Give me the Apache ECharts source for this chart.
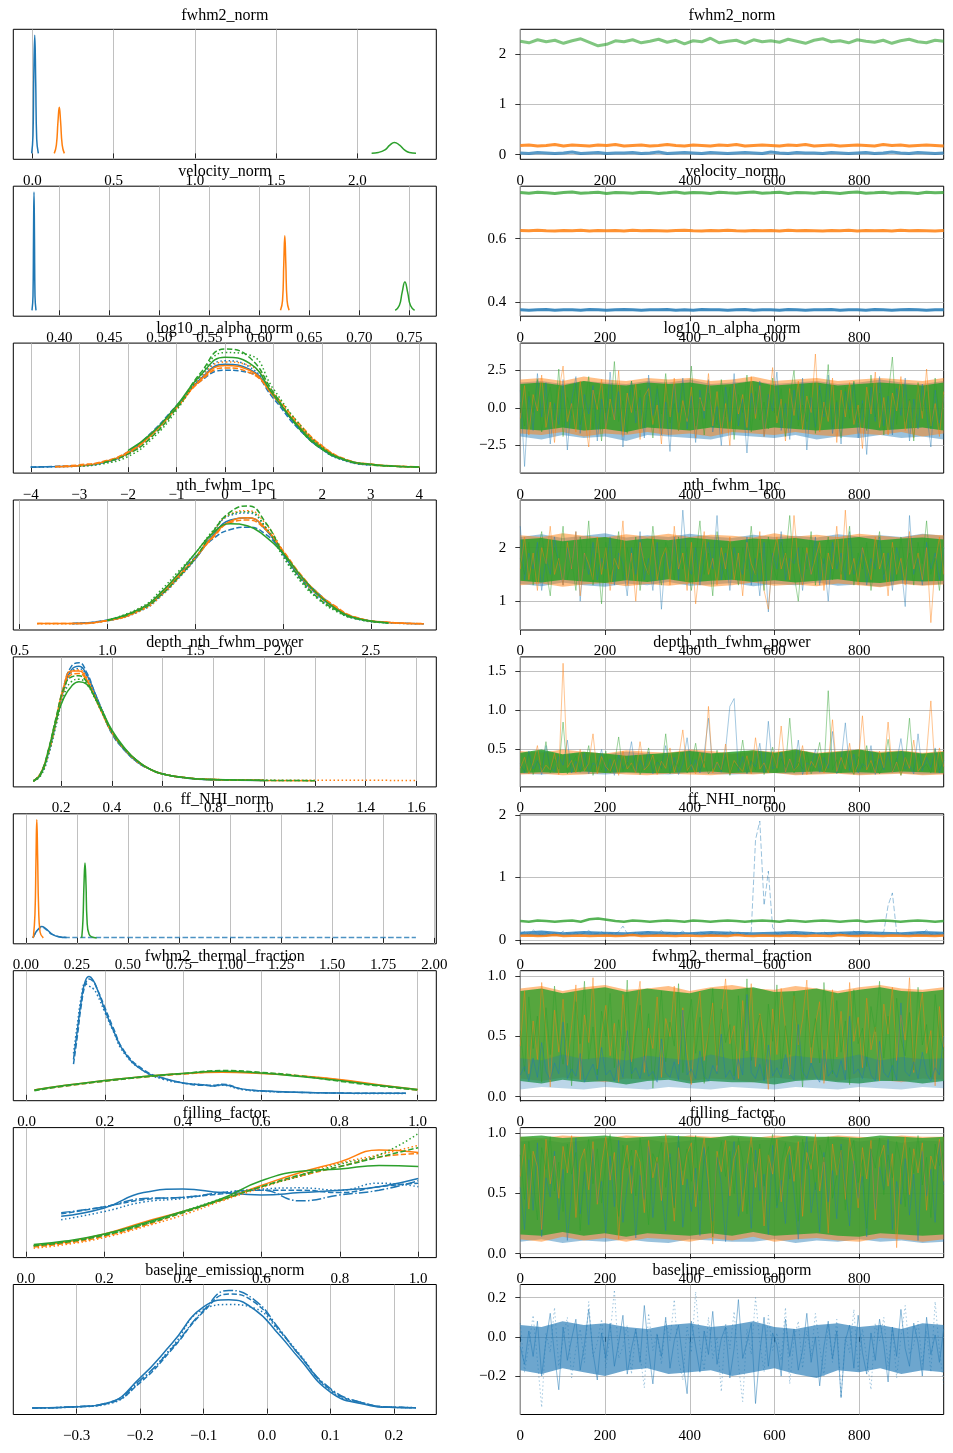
<!DOCTYPE html>
<html>
<head>
<meta charset="utf-8">
<script src="https://cdn.jsdelivr.net/npm/echarts@6/dist/echarts.min.js"></script>
<style>
html, body { margin: 0; padding: 0; background: #fff; }
#chart { width: 953px; height: 1453px; }
</style>
</head>
<body>
<div id="chart"></div>
<script>
var BLUE = '#1f77b4', ORANGE = '#ff7f0e', GREEN = '#2ca02c';

var titles = ['fwhm2_norm', 'velocity_norm', 'log10_n_alpha_norm', 'nth_fwhm_1pc', 'depth_nth_fwhm_power',
              'ff_NHI_norm', 'fwhm2_thermal_fraction', 'filling_factor', 'baseline_emission_norm'];

// left column (density) x axis
var kdeXRange = [[-0.117, 2.486], [0.354, 0.777], [-4.36, 4.35], [0.464, 2.872], [0.011, 1.679],
                 [-0.061, 2.01], [-0.034, 1.048], [-0.032, 1.046], [-0.4, 0.267]];
var kdeXTicks = [[0, 0.5, 1, 1.5, 2], [0.4, 0.45, 0.5, 0.55, 0.6, 0.65, 0.7, 0.75], [-4, -3, -2, -1, 0, 1, 2, 3, 4],
                 [0.5, 1, 1.5, 2, 2.5], [0.2, 0.4, 0.6, 0.8, 1.0, 1.2, 1.4, 1.6],
                 [0, 0.25, 0.5, 0.75, 1, 1.25, 1.5, 1.75, 2], [0, 0.2, 0.4, 0.6, 0.8, 1], [0, 0.2, 0.4, 0.6, 0.8, 1],
                 [-0.3, -0.2, -0.1, 0, 0.1, 0.2]];
var kdeXDecimals = [1, 2, 0, 1, 1, 2, 1, 1, 1];

// right column (trace) y axis
var traceYRange = [[-0.094, 2.488], [0.355, 0.766], [-4.34, 4.33], [0.463, 2.889], [0.023, 1.681],
                   [-0.064, 2.016], [-0.034, 1.048], [-0.032, 1.046], [-0.396, 0.267]];
var traceYTicks = [[0, 1, 2], [0.4, 0.6], [-2.5, 0, 2.5], [1, 2], [0.5, 1, 1.5], [0, 1, 2], [0, 0.5, 1], [0, 0.5, 1], [-0.2, 0, 0.2]];
var traceYDecimals = [0, 1, 1, 0, 1, 0, 1, 1, 1];
var drawTicks = [0, 200, 400, 600, 800];
var drawMax = 999;

// ---- densities (relative, tallest curve of a panel = 1) ----
// row 1
var kde1BlueX = [-0.004, 0.004, 0.009, 0.015, 0.021, 0.027, 0.037];
var kde1Blue = [[0, 0.15, 0.65, 1.0, 0.6, 0.12, 0]];
var kde1OrangeX = [0.135, 0.148, 0.158, 0.166, 0.174, 0.184, 0.197];
var kde1Orange = [[0, 0.07, 0.27, 0.39, 0.27, 0.07, 0]];
var kde1GreenX = [2.088, 2.13, 2.17, 2.2, 2.228, 2.26, 2.29, 2.32, 2.361];
var kde1Green = [[0.002, 0.008, 0.03, 0.07, 0.093, 0.07, 0.03, 0.008, 0.002]];
// row 2
var kde2BlueX = [0.3727, 0.3737, 0.3742, 0.3747, 0.3752, 0.3757, 0.3767];
var kde2Blue = [[0, 0.12, 0.6, 1.0, 0.6, 0.12, 0]];
var kde2OrangeX = [0.6212, 0.6232, 0.6245, 0.6255, 0.6265, 0.6278, 0.6298];
var kde2Orange = [[0, 0.08, 0.4, 0.631, 0.4, 0.08, 0]];
var kde2GreenX = [0.7359, 0.74, 0.7428, 0.7456, 0.7484, 0.7512, 0.7553];
var kde2Green = [[0, 0.04, 0.15, 0.239, 0.15, 0.04, 0]];
// row 3
var kde3X = [-4, -3.5, -3, -2.5, -2, -1.5, -1, -0.5, 0, 0.5, 1, 1.5, 2, 2.5, 3, 3.5, 4];
var kde3Blue = [
  [0, 0.005, 0.012, 0.04, 0.12, 0.29, 0.51, 0.75, 0.87, 0.83, 0.6, 0.34, 0.15, 0.055, 0.02, null, null],
  [0.002, 0.006, 0.015, 0.045, 0.13, 0.3, 0.52, 0.73, 0.82, 0.8, 0.58, 0.33, 0.16, 0.06, 0.022, null, null],
  [0.001, 0.004, 0.01, 0.035, 0.11, 0.27, 0.5, 0.77, 0.9, 0.85, 0.61, 0.35, 0.15, 0.05, 0.018, null, null]];
var kde3Orange = [
  [null, 0.004, 0.012, 0.045, 0.12, 0.28, 0.5, 0.74, 0.86, 0.82, 0.6, 0.36, 0.17, 0.06, 0.024, 0.008, 0.002],
  [null, 0.006, 0.02, 0.05, 0.13, 0.29, 0.5, 0.73, 0.84, 0.8, 0.62, 0.38, 0.18, 0.065, 0.026, 0.01, 0.003],
  [null, 0.003, 0.01, 0.04, 0.11, 0.27, 0.5, 0.76, 0.89, 0.86, 0.63, 0.37, 0.18, 0.06, 0.022, 0.007, 0.002]];
var kde3Green = [
  [null, null, null, null, 0.14, 0.29, 0.52, 0.78, 0.93, 0.88, 0.61, 0.35, 0.16, 0.06, 0.025, 0.009, 0.002],
  [null, null, null, 0.04, 0.11, 0.26, 0.5, 0.8, 1.0, 0.93, 0.63, 0.34, 0.15, 0.055, 0.02, 0.007, 0.002],
  [null, null, 0.008, 0.03, 0.09, 0.24, 0.48, 0.78, 0.97, 0.95, 0.66, 0.38, 0.17, 0.06, 0.022, 0.008, 0.002]];
// row 4
var kde4X = [0.6, 0.8, 1.0, 1.2, 1.3, 1.4, 1.5, 1.6, 1.7, 1.8, 1.9, 2.0, 2.1, 2.2, 2.3, 2.4, 2.6, 2.8];
var kde4Blue = [
  [null, 0.004, 0.03, 0.13, 0.24, 0.39, 0.55, 0.75, 0.88, 0.9, 0.8, 0.59, 0.39, 0.24, 0.13, 0.055, 0.012, null],
  [null, 0.005, 0.035, 0.14, 0.26, 0.41, 0.57, 0.72, 0.8, 0.82, 0.76, 0.6, 0.41, 0.26, 0.14, 0.06, 0.013, 0.003],
  [null, 0.003, 0.028, 0.12, 0.23, 0.38, 0.55, 0.77, 0.92, 0.94, 0.82, 0.58, 0.37, 0.22, 0.12, 0.05, 0.01, 0.002]];
var kde4Orange = [
  [0.004, 0.005, 0.03, 0.13, 0.25, 0.4, 0.56, 0.74, 0.87, 0.9, 0.81, 0.61, 0.41, 0.25, 0.14, 0.06, 0.014, 0.003],
  [0.006, 0.004, 0.032, 0.14, 0.25, 0.4, 0.56, 0.73, 0.86, 0.88, 0.8, 0.62, 0.42, 0.26, 0.15, 0.065, 0.015, 0.004],
  [0.002, 0.004, 0.028, 0.12, 0.23, 0.38, 0.56, 0.78, 0.93, 0.96, 0.85, 0.62, 0.4, 0.24, 0.13, 0.06, 0.014, 0.003]];
var kde4Green = [
  [null, null, 0.035, 0.14, 0.26, 0.42, 0.6, 0.77, 0.85, 0.83, 0.74, 0.6, 0.41, 0.25, 0.13, 0.055, 0.01, null],
  [null, null, 0.03, 0.13, 0.24, 0.39, 0.56, 0.78, 0.95, 1.0, 0.86, 0.6, 0.38, 0.22, 0.12, 0.05, 0.01, null],
  [null, null, 0.032, 0.15, 0.28, 0.44, 0.6, 0.79, 0.93, 0.95, 0.82, 0.57, 0.36, 0.21, 0.11, 0.05, 0.01, null]];
// row 5
var kde5X = [0.09, 0.12, 0.15, 0.18, 0.21, 0.24, 0.27, 0.3, 0.33, 0.36, 0.4, 0.45, 0.5, 0.55, 0.6, 0.7, 0.8, 1.0, 1.2, 1.6];
var kde5Blue = [
  [0, 0.06, 0.24, 0.5, 0.78, 0.94, 0.97, 0.9, 0.76, 0.6, 0.41, 0.26, 0.16, 0.1, 0.06, 0.024, 0.011, 0.004, null, null],
  [0, 0.07, 0.26, 0.52, 0.8, 0.97, 1.0, 0.92, 0.76, 0.6, 0.4, 0.26, 0.16, 0.1, 0.06, 0.024, 0.011, null, null, null],
  [0, 0.05, 0.22, 0.48, 0.75, 0.92, 0.95, 0.89, 0.75, 0.61, 0.42, 0.27, 0.17, 0.1, 0.06, 0.025, 0.012, 0.005, null, null]];
var kde5Orange = [
  [0, 0.07, 0.26, 0.53, 0.8, 0.93, 0.93, 0.86, 0.72, 0.58, 0.41, 0.27, 0.17, 0.1, 0.06, 0.025, 0.012, 0.005, 0.003, null],
  [0, 0.06, 0.24, 0.5, 0.77, 0.9, 0.91, 0.85, 0.72, 0.59, 0.42, 0.27, 0.17, 0.1, 0.06, 0.026, 0.013, 0.006, null, null],
  [0, 0.06, 0.25, 0.51, 0.78, 0.92, 0.94, 0.88, 0.74, 0.6, 0.42, 0.27, 0.16, 0.1, 0.06, 0.026, 0.013, 0.007, 0.006, 0.005]];
var kde5Green = [
  [0, 0.06, 0.26, 0.52, 0.7, 0.8, 0.84, 0.82, 0.72, 0.6, 0.43, 0.28, 0.17, 0.1, 0.06, 0.025, 0.012, 0.005, null, null],
  [0, 0.07, 0.27, 0.54, 0.78, 0.88, 0.89, 0.84, 0.72, 0.59, 0.42, 0.27, 0.17, 0.1, 0.06, 0.025, 0.012, 0.005, 0.003, null],
  [0, 0.05, 0.23, 0.48, 0.72, 0.84, 0.86, 0.82, 0.71, 0.58, 0.41, 0.27, 0.17, 0.1, 0.06, 0.025, 0.012, 0.006, 0.004, null]];
// row 6
var kde6BlueX = [0.035, 0.05, 0.065, 0.078, 0.09, 0.11, 0.13, 0.16, 0.2];
var kde6Blue = [[0, 0.05, 0.08, 0.096, 0.09, 0.06, 0.03, 0.01, 0.003]];
var kde6BlueTailX = [0.035, 0.06, 0.08, 0.1, 0.13, 0.2, 0.5, 1.0, 1.5, 1.91];
var kde6BlueTail = [0, 0.07, 0.09, 0.07, 0.03, 0.004, 0.003, 0.003, 0.003, 0.003];
var kde6OrangeX = [0.037, 0.045, 0.05, 0.054, 0.058, 0.063, 0.07, 0.086];
var kde6Orange = [[0, 0.2, 0.65, 1.0, 0.7, 0.25, 0.05, 0]];
var kde6GreenX = [0.274, 0.28, 0.285, 0.29, 0.295, 0.3, 0.31, 0.347];
var kde6Green = [[0, 0.15, 0.45, 0.634, 0.45, 0.15, 0.03, 0]];
// row 7
var kde7BlueX = [0.12, 0.13, 0.14, 0.15, 0.16, 0.17, 0.18, 0.2, 0.22, 0.25, 0.3, 0.35, 0.4, 0.45, 0.48, 0.5, 0.55, 0.6, 0.7, 0.8, 0.9, 0.97];
var kde7Blue = [
  [0.3, 0.55, 0.8, 0.96, 1.0, 0.97, 0.9, 0.72, 0.56, 0.36, 0.2, 0.14, 0.1, 0.085, 0.075, 0.085, 0.05, 0.035, 0.022, 0.015, 0.012, 0.012],
  [0.26, 0.5, 0.76, 0.93, 0.98, 0.96, 0.9, 0.74, 0.58, 0.37, 0.21, 0.14, 0.1, 0.08, 0.08, 0.09, 0.05, 0.033, 0.02, 0.015, 0.012, 0.012],
  [0.35, 0.6, 0.83, 0.94, 0.92, 0.9, 0.85, 0.7, 0.55, 0.35, 0.2, 0.13, 0.1, 0.085, 0.075, 0.08, 0.045, 0.03, 0.02, 0.014, 0.01, 0.01]];
var kde7X = [0.02, 0.1, 0.2, 0.3, 0.4, 0.5, 0.6, 0.7, 0.8, 0.9, 1.0];
var kde7Orange = [
  [0.04, 0.08, 0.12, 0.155, 0.18, 0.19, 0.18, 0.16, 0.13, 0.085, 0.045],
  [0.04, 0.075, 0.115, 0.15, 0.175, 0.195, 0.185, 0.16, 0.125, 0.08, 0.04]];
var kde7Green = [
  [0.04, 0.08, 0.12, 0.155, 0.18, 0.2, 0.185, 0.155, 0.12, 0.08, 0.045],
  [0.035, 0.075, 0.115, 0.15, 0.18, 0.205, 0.19, 0.16, 0.115, 0.075, 0.04]];
// row 8
var kde8BlueX = [0.09, 0.2, 0.3, 0.4, 0.5, 0.6, 0.7, 0.8, 0.9, 1.0];
var kde8Blue = [
  [0.3, 0.37, 0.5, 0.53, 0.5, 0.48, 0.5, 0.52, 0.55, 0.62],
  [0.32, 0.38, 0.44, 0.46, 0.49, 0.52, 0.52, 0.5, 0.55, 0.58],
  [0.27, 0.34, 0.42, 0.45, 0.5, 0.53, 0.54, 0.52, 0.58, 0.55],
  [0.33, 0.38, 0.45, 0.46, 0.5, 0.52, 0.43, 0.48, 0.52, 0.6]];
var kde8X = [0.02, 0.1, 0.2, 0.3, 0.4, 0.5, 0.6, 0.7, 0.8, 0.9, 1.0];
var kde8Orange = [
  [0.05, 0.08, 0.15, 0.25, 0.34, 0.44, 0.56, 0.67, 0.76, 0.86, 0.84],
  [0.04, 0.07, 0.13, 0.22, 0.33, 0.44, 0.55, 0.64, 0.72, 0.8, 0.83],
  [0.03, 0.06, 0.12, 0.21, 0.31, 0.43, 0.54, 0.65, 0.75, 0.82, 0.9]];
var kde8Green = [
  [0.06, 0.09, 0.15, 0.24, 0.34, 0.45, 0.6, 0.68, 0.7, 0.73, 0.72],
  [0.05, 0.08, 0.14, 0.23, 0.33, 0.44, 0.55, 0.65, 0.72, 0.8, 0.88],
  [0.05, 0.08, 0.14, 0.23, 0.34, 0.45, 0.55, 0.64, 0.74, 0.82, 1.0]];
// row 9
var kde9X = [-0.37, -0.3, -0.25, -0.2, -0.15, -0.1, -0.06, -0.02, 0.02, 0.05, 0.1, 0.15, 0.2, 0.235];
var kde9Blue = [
  [0.004, 0.015, 0.05, 0.26, 0.55, 0.86, 0.92, 0.84, 0.62, 0.43, 0.14, 0.04, 0.01, 0.008],
  [0.005, 0.016, 0.045, 0.22, 0.5, 0.82, 0.97, 0.9, 0.66, 0.46, 0.16, 0.05, 0.012, 0.008],
  [0.004, 0.014, 0.04, 0.23, 0.52, 0.84, 0.88, 0.85, 0.65, 0.47, 0.15, 0.045, 0.011, 0.007],
  [0.006, 0.017, 0.05, 0.24, 0.51, 0.83, 1.0, 0.92, 0.67, 0.46, 0.17, 0.05, 0.012, 0.008]];

// ---- traces (draws 0..999) ----
var trace1Blue = [0.03,0.02,0.04,0.03,0.02,0.03,0.05,0.02,0.03,0.04,0.02,0.03,0.03,0.04,0.02,0.03,0.05,0.02,0.03,0.04,0.03,0.02,0.04,0.03,0.02,0.03,0.04,0.03,0.02,0.05,0.03,0.02,0.04,0.03,0.03,0.02,0.04,0.03,0.02,0.03,0.04,0.02,0.03,0.05,0.03,0.02,0.04,0.03,0.02,0.03];
var trace1Orange = [0.18,0.19,0.17,0.18,0.2,0.17,0.19,0.18,0.17,0.19,0.18,0.2,0.17,0.18,0.19,0.17,0.18,0.2,0.18,0.17,0.19,0.18,0.17,0.19,0.18,0.2,0.17,0.18,0.19,0.18,0.17,0.19,0.18,0.2,0.17,0.18,0.19,0.17,0.18,0.19,0.18,0.17,0.2,0.18,0.19,0.17,0.18,0.19,0.18,0.17];
var trace1Green = [2.25,2.22,2.28,2.24,2.27,2.21,2.26,2.3,2.23,2.16,2.19,2.26,2.24,2.28,2.22,2.25,2.29,2.23,2.27,2.2,2.26,2.24,2.31,2.22,2.25,2.27,2.21,2.28,2.24,2.26,2.23,2.29,2.25,2.21,2.27,2.3,2.24,2.26,2.22,2.28,2.25,2.23,2.27,2.21,2.26,2.29,2.24,2.22,2.27,2.25];

var trace2Blue = [0.375,0.374,0.375,0.376,0.374,0.375,0.375,0.374,0.376,0.375,0.374,0.375,0.376,0.375,0.374,0.375,0.375,0.376,0.374,0.375,0.374,0.376,0.375,0.375,0.374,0.375,0.376,0.374,0.375,0.375,0.374,0.376,0.375,0.374,0.375,0.375,0.376,0.374,0.375,0.375,0.374,0.376,0.375,0.374,0.375,0.376,0.375,0.374,0.375,0.375];
var trace2Orange = [0.626,0.625,0.627,0.625,0.624,0.626,0.625,0.627,0.624,0.626,0.625,0.626,0.624,0.627,0.625,0.626,0.625,0.624,0.626,0.627,0.625,0.624,0.626,0.625,0.627,0.625,0.624,0.626,0.625,0.626,0.624,0.627,0.625,0.626,0.625,0.624,0.626,0.625,0.627,0.624,0.626,0.625,0.626,0.624,0.627,0.625,0.626,0.625,0.624,0.626];
var trace2Green = [0.746,0.744,0.747,0.745,0.743,0.746,0.748,0.744,0.745,0.747,0.743,0.746,0.745,0.744,0.747,0.746,0.743,0.745,0.748,0.744,0.746,0.745,0.743,0.747,0.745,0.744,0.746,0.748,0.744,0.745,0.747,0.743,0.746,0.745,0.744,0.747,0.745,0.743,0.746,0.748,0.744,0.745,0.747,0.744,0.746,0.745,0.743,0.747,0.745,0.746];

var trace3Blue = [1.2,-3.9,0.8,-1.5,2.3,-0.6,1.7,-2.4,0.3,-1.1,1.9,-2.8,0.5,2.1,-1.7,0.9,-0.4,1.5,-2.2,0.6,
  -1.3,2.4,-0.8,1.1,-2.6,0.2,1.8,-1.0,0.7,-2.0,2.2,-0.5,1.3,-1.8,0.4,-2.9,1.6,-0.3,2.0,-1.4,
  0.8,-2.3,1.2,-0.7,1.9,-1.6,0.1,-2.5,1.4,-0.9,2.3,-1.2,0.6,-3.0,1.0,-0.4,1.8,-1.9,0.9,-0.2,
  2.4,-1.5,0.3,-2.1,1.2,-0.8,2.0,-2.8,0.7,-1.3,1.5,-0.6,2.2,-1.7,0.4,-2.4,1.1,-0.1,1.7,-2.0,
  0.5,-3.1,1.4,-0.9,2.1,-1.2,0.8,-1.8,1.3,-0.5,2.0,-2.2,0.6,-1.4,1.6,-0.3,-2.6,1.2,-1.0,0.7];
var trace3Orange = [-0.7,1.5,-1.8,0.9,-0.2,2.2,-1.3,0.4,-2.3,1.1,2.8,-0.9,0.3,-1.6,1.8,-0.5,-2.6,1.2,-0.1,1.9,
  -1.4,0.6,-0.8,2.5,-1.9,1.0,-0.3,1.6,-2.1,0.8,1.3,-1.1,0.2,-2.4,1.7,-0.6,2.0,-1.5,0.5,-0.9,
  1.4,-2.0,0.7,-0.2,2.3,-1.2,1.1,-1.7,0.3,-2.5,1.6,-0.4,0.9,-1.3,2.1,-0.7,1.5,-1.9,0.1,2.7,
  -1.0,0.6,-2.2,1.3,-0.5,1.8,-1.4,0.8,-0.3,3.6,-1.6,0.4,-0.9,2.0,-2.3,1.2,-0.6,1.7,-1.1,0.2,
  -2.7,1.4,-0.4,2.4,-1.3,0.7,-1.8,1.0,-0.2,2.1,-1.5,0.5,-2.0,1.6,-0.7,2.6,-1.2,0.3,-1.9,1.1];
var trace3Green = [0.4,-1.2,1.1,-0.3,1.9,-1.6,0.2,1.4,-0.8,2.6,-1.9,0.7,-0.5,1.6,-1.1,0.1,2.1,-1.4,0.9,-2.2,
  1.3,-0.6,3.1,-0.9,0.5,-1.7,1.8,-0.2,1.2,-1.3,0.8,-2.0,1.5,-0.4,2.3,-1.0,0.3,-1.5,1.7,-0.7,
  2.8,-1.2,0.6,-1.8,1.0,0.0,-1.1,1.9,-0.6,1.4,-2.1,0.9,-0.3,2.2,-1.6,1.1,-0.8,0.4,-1.4,2.0,
  -0.5,1.3,-1.9,0.7,2.5,-1.2,0.2,-0.9,1.6,-1.7,1.2,-0.4,2.9,-1.3,0.5,-2.0,1.4,-0.7,1.8,-1.0,
  0.3,-1.5,2.2,-0.6,1.0,-1.8,0.8,3.4,-1.1,1.5,-0.9,0.6,-2.2,1.7,-0.2,1.1,-1.4,2.0,-0.8,0.9];

var trace4Blue = [2.4,1.4,1.9,1.6,2.1,1.2,1.8,1.5,2.2,1.7,1.3,2.0,1.6,2.3,1.0,1.9,1.5,2.1,1.4,1.8,
  1.6,2.2,1.3,1.9,1.7,1.1,2.0,1.5,2.3,1.4,1.8,1.2,2.1,0.85,1.9,1.6,2.2,1.4,2.7,1.7,
  1.5,2.0,1.3,1.8,2.1,1.6,2.6,1.4,1.9,1.2,2.0,1.7,1.5,2.2,1.3,1.8,1.1,2.1,0.8,1.9,
  1.6,2.3,1.4,1.8,1.7,2.0,1.2,1.9,1.5,2.2,1.3,1.8,1.0,2.1,1.6,1.9,1.4,2.3,1.5,1.7,
  2.0,1.3,1.8,1.6,2.2,1.4,1.9,1.2,2.0,1.7,0.9,2.6,1.5,1.8,1.3,2.1,1.6,1.9,1.4,2.0];
var trace4Orange = [1.6,2.2,1.4,1.9,1.2,2.0,1.7,2.4,1.5,1.8,1.3,2.1,1.6,2.3,1.1,1.9,1.7,1.4,2.2,1.5,
  2.0,1.2,1.8,1.6,2.5,1.3,1.9,1.0,2.1,1.7,1.5,2.2,1.4,1.8,2.0,1.3,2.4,1.6,1.9,1.2,
  2.1,0.95,1.7,2.3,1.5,1.8,1.3,2.0,1.6,2.2,1.4,1.9,1.1,2.1,1.7,1.5,2.3,1.2,0.85,1.8,
  2.2,1.6,1.9,1.4,2.6,1.7,1.3,2.0,1.5,1.8,2.1,1.2,1.9,1.6,2.4,1.4,2.7,1.5,1.8,1.3,
  2.0,1.7,1.4,2.2,1.6,1.9,1.1,2.1,1.5,1.8,1.3,2.3,1.6,1.9,1.4,2.0,0.6,1.7,2.2,1.5];
var trace4Green = [1.8,1.5,2.1,1.3,1.9,2.3,1.6,1.1,2.0,1.7,2.4,1.4,1.8,1.2,2.2,1.6,2.5,1.3,1.9,0.95,
  2.1,1.5,1.7,2.3,1.4,2.0,1.6,2.2,1.2,1.8,1.5,2.4,1.7,1.3,2.1,1.9,1.4,2.2,1.6,2.0,
  1.2,1.8,2.5,1.5,1.9,1.1,2.3,1.7,1.4,2.1,1.8,1.3,2.0,1.6,2.4,1.5,1.9,1.2,2.2,1.7,
  1.4,2.1,1.8,2.6,1.5,1.0,2.0,1.6,2.3,1.3,1.9,1.7,2.2,1.4,2.0,1.5,1.8,2.4,1.3,1.9,
  1.6,2.1,1.2,1.8,2.3,1.5,1.7,2.0,1.4,2.2,1.6,1.9,1.3,2.1,1.7,2.5,1.5,1.8,1.2,2.0];

var trace5Blue = [0.32,0.2,0.48,0.25,0.36,0.18,0.55,0.27,0.22,0.41,0.3,0.62,0.2,0.35,0.24,0.45,0.19,0.33,0.28,0.5,
  0.22,0.38,0.17,0.43,0.26,0.31,0.6,0.21,0.36,0.25,0.47,0.19,0.34,0.27,0.55,0.22,0.4,0.18,0.32,0.65,
  0.24,0.37,0.2,0.45,0.9,0.26,0.33,0.21,0.5,1.05,1.15,0.23,0.41,0.19,0.35,0.28,0.58,0.2,0.86,0.25,
  0.31,0.46,0.2,0.37,0.24,0.62,0.18,0.33,0.29,0.5,0.21,0.4,0.26,0.73,0.19,0.35,0.84,0.23,0.44,0.2,
  0.32,0.27,0.55,0.18,0.38,0.24,0.47,0.21,0.34,0.64,0.25,0.3,0.19,0.7,0.23,0.4,0.27,0.52,0.2,0.36];
var trace5Orange = [0.26,0.4,0.19,0.33,0.55,0.21,0.3,0.24,0.45,0.18,1.6,0.27,0.36,0.2,0.5,0.23,0.32,0.7,0.19,0.41,
  0.28,0.22,0.37,0.17,0.48,0.25,0.33,0.2,0.6,0.24,0.3,0.43,0.18,0.35,0.26,0.52,0.21,0.39,0.75,0.23,
  0.31,0.19,0.46,0.27,1.05,0.2,0.34,0.24,0.57,0.18,0.36,0.28,0.22,0.42,0.19,0.65,0.25,0.33,0.2,0.47,
  0.26,0.8,0.21,0.38,0.23,0.3,0.55,0.18,0.35,0.27,0.44,0.2,0.32,0.88,0.22,0.4,0.25,0.58,0.19,0.31,
  0.93,0.24,0.36,0.2,0.48,0.27,0.85,0.21,0.34,0.17,0.4,0.26,0.62,0.22,0.3,0.45,1.12,0.2,0.52,0.28];
var trace5Green = [0.3,0.22,0.45,0.18,0.35,0.27,0.6,0.2,0.38,0.25,0.85,0.19,0.32,0.42,0.21,0.29,0.55,0.17,0.36,0.24,
  0.48,0.2,0.31,0.66,0.22,0.34,0.26,0.43,0.18,0.3,0.52,0.21,0.37,0.25,0.7,0.19,0.33,0.28,0.46,0.2,
  0.31,0.58,0.23,0.35,0.19,0.27,0.49,0.22,0.4,0.17,0.33,0.26,0.62,0.2,0.36,0.24,0.44,0.18,0.3,0.53,
  0.21,0.38,0.27,0.9,0.2,0.34,0.25,0.47,0.19,0.32,0.59,0.22,1.25,0.24,0.37,0.2,0.45,0.28,0.18,0.41,
  0.26,0.55,0.21,0.35,0.19,0.3,0.63,0.23,0.39,0.17,0.34,0.9,0.22,0.44,0.26,0.31,0.2,0.5,0.24,0.36];

var trace6Blue = [0.09,0.13,0.08,0.16,0.1,0.07,0.12,0.09,0.11,0.08,0.14,0.1,0.09,0.12,0.08,0.11,0.15,0.09,0.1,0.13,
  0.08,0.11,0.09,0.13,0.22,0.1,0.08,0.12,0.09,0.11,0.13,0.08,0.1,0.15,0.09,0.12,0.08,0.1,0.14,0.09,
  0.11,0.08,0.13,0.1,0.09,0.12,0.08,0.11,0.1,0.14,0.09,0.12,0.08,0.1,0.13,1.6,1.9,0.55,1.1,0.2,
  0.09,0.12,0.1,0.08,0.13,0.09,0.11,0.08,0.12,0.1,0.09,0.13,0.08,0.11,0.1,0.12,0.08,0.1,0.14,0.09,
  0.11,0.08,0.12,0.1,0.09,0.13,0.55,0.75,0.12,0.1,0.08,0.11,0.09,0.12,0.1,0.16,0.08,0.11,0.09,0.12];
var trace6Orange = [0.065,0.07,0.06,0.065,0.075,0.06,0.065,0.07,0.06,0.065,0.07,0.06,0.065,0.075,0.06,0.065,0.07,0.065,0.06,0.07,0.065,0.06,0.07,0.065,0.06,0.075,0.065,0.06,0.07,0.065,0.06,0.07,0.065,0.06,0.07,0.065,0.06,0.075,0.065,0.06,0.07,0.065,0.06,0.07,0.065,0.06,0.07,0.065,0.06,0.07];
var trace6Green = [0.3,0.29,0.31,0.3,0.29,0.3,0.31,0.29,0.33,0.34,0.32,0.3,0.29,0.31,0.3,0.29,0.3,0.31,0.3,0.29,0.31,0.3,0.29,0.3,0.31,0.3,0.29,0.3,0.31,0.3,0.29,0.31,0.3,0.29,0.3,0.31,0.3,0.29,0.3,0.31,0.29,0.3,0.31,0.3,0.29,0.3,0.31,0.3,0.29,0.3];

var trace7Blue = [0.18,0.25,0.13,0.32,0.16,0.45,0.21,0.14,0.28,0.19,0.62,0.15,0.23,0.17,0.36,0.12,0.2,0.27,0.14,0.41,
  0.18,0.22,0.13,0.3,0.16,0.55,0.19,0.24,0.15,0.34,0.17,0.21,0.12,0.48,0.2,0.16,0.29,0.14,0.72,0.18,
  0.23,0.15,0.38,0.17,0.13,0.26,0.19,0.52,0.16,0.22,0.14,0.31,0.18,0.85,0.2,0.15,0.27,0.13,0.43,0.17,
  0.24,0.16,0.35,0.19,0.14,0.6,0.21,0.15,0.28,0.18,0.12,0.39,0.17,0.22,0.16,0.3,0.14,0.67,0.19,0.23,
  0.15,0.33,0.18,0.13,0.46,0.2,0.16,0.26,0.14,0.78,0.21,0.17,0.29,0.15,0.37,0.19,0.13,0.24,0.18,0.5];
var trace7Orange = [0.42,0.88,0.19,0.63,0.31,0.95,0.55,0.08,0.72,0.37,0.81,0.26,0.59,0.93,0.14,0.68,0.45,0.99,0.23,0.52,
  0.76,0.34,0.61,0.12,0.85,0.47,0.29,0.7,0.96,0.2,0.57,0.4,0.83,0.16,0.65,0.5,0.92,0.27,0.74,0.36,
  0.1,0.62,0.87,0.3,0.53,0.78,0.21,0.67,0.98,0.44,0.59,0.15,0.8,0.38,0.94,0.25,0.69,0.48,0.06,0.73,
  0.35,0.9,0.56,0.18,0.84,0.43,0.64,0.97,0.28,0.6,0.79,0.11,0.5,0.89,0.33,0.71,0.22,0.95,0.46,0.66,
  0.24,0.82,0.39,0.58,0.13,0.77,0.52,0.91,0.3,0.68,0.47,0.99,0.2,0.62,0.86,0.36,0.55,0.09,0.75,0.41];
var trace7Green = [0.55,0.21,0.83,0.4,0.67,0.12,0.74,0.35,0.92,0.48,0.27,0.61,0.09,0.79,0.44,0.96,0.31,0.58,0.18,0.71,
  0.5,0.86,0.24,0.64,0.38,0.97,0.15,0.53,0.76,0.33,0.69,0.07,0.47,0.88,0.29,0.62,0.42,0.94,0.2,0.57,
  0.81,0.36,0.66,0.11,0.51,0.9,0.26,0.73,0.45,0.6,0.17,0.84,0.39,0.98,0.3,0.55,0.68,0.14,0.77,0.46,
  0.93,0.23,0.59,0.35,0.87,0.49,0.08,0.72,0.41,0.65,0.28,0.95,0.52,0.19,0.8,0.37,0.63,0.1,0.89,0.44,
  0.57,0.25,0.75,0.54,0.96,0.32,0.67,0.13,0.82,0.48,0.34,0.7,0.22,0.91,0.43,0.6,0.16,0.85,0.5,0.38];

var trace8Blue = [0.55,0.2,0.78,0.36,0.92,0.14,0.63,0.47,0.85,0.28,0.7,0.11,0.51,0.96,0.33,0.68,0.24,0.87,0.42,0.6,
  0.17,0.81,0.39,0.94,0.26,0.57,0.73,0.13,0.65,0.45,0.89,0.3,0.76,0.52,0.19,0.83,0.4,0.98,0.22,0.62,
  0.35,0.71,0.15,0.88,0.49,0.27,0.8,0.58,0.1,0.67,0.93,0.31,0.54,0.75,0.21,0.86,0.44,0.66,0.16,0.9,
  0.38,0.61,0.25,0.82,0.5,0.12,0.74,0.97,0.34,0.59,0.18,0.84,0.43,0.69,0.29,0.91,0.56,0.23,0.77,0.46,
  0.64,0.14,0.87,0.37,0.72,0.53,0.95,0.2,0.6,0.41,0.79,0.32,0.66,0.11,0.85,0.48,0.7,0.26,0.93,0.57];
var trace8Orange = [0.64,0.91,0.37,0.85,0.72,0.2,0.95,0.58,0.81,0.46,0.89,0.67,0.98,0.3,0.77,0.87,0.53,0.93,0.41,0.74,
  0.97,0.61,0.84,0.12,0.69,0.9,0.5,0.86,0.76,0.34,0.94,0.63,0.8,0.44,0.99,0.71,0.27,0.88,0.57,0.83,
  0.92,0.39,0.75,0.96,0.6,0.08,0.85,0.68,0.94,0.48,0.79,0.9,0.35,0.73,0.97,0.55,0.87,0.23,0.82,0.66,
  0.95,0.43,0.78,0.89,0.6,0.93,0.31,0.84,0.7,0.99,0.52,0.8,0.17,0.91,0.65,0.86,0.45,0.96,0.74,0.38,
  0.88,0.62,0.94,0.28,0.79,0.9,0.56,0.83,0.05,0.72,0.97,0.49,0.87,0.67,0.92,0.36,0.81,0.7,0.95,0.6];
var trace8Green = [0.82,0.45,0.93,0.61,0.28,0.88,0.7,0.97,0.52,0.76,0.35,0.91,0.66,0.84,0.19,0.73,0.95,0.58,0.87,0.42,
  0.79,0.99,0.63,0.31,0.9,0.71,0.86,0.48,0.96,0.67,0.24,0.83,0.75,0.92,0.55,0.8,0.38,0.94,0.69,0.87,
  0.6,0.98,0.44,0.77,0.89,0.14,0.72,0.93,0.64,0.85,0.5,0.96,0.78,0.33,0.88,0.68,0.91,0.56,0.81,0.99,
  0.4,0.74,0.92,0.62,0.86,0.27,0.95,0.7,0.83,0.53,0.9,0.76,0.97,0.46,0.65,0.89,0.36,0.84,0.94,0.59,
  0.78,0.21,0.87,0.71,0.96,0.49,0.82,0.63,0.93,0.75,0.39,0.88,0.67,0.98,0.57,0.8,0.3,0.91,0.73,0.86];

var trace9BlueA = [-0.05,-0.14,0.03,-0.1,0.08,-0.2,-0.02,0.12,-0.09,-0.27,0.05,-0.12,-0.01,0.09,-0.17,-0.04,0.14,-0.08,-0.22,0.02,
  -0.11,0.07,-0.15,-0.03,0.11,-0.19,-0.06,0.04,-0.13,0.16,-0.07,-0.24,0.01,-0.1,0.1,-0.16,-0.02,0.06,-0.12,-0.29,
  0.08,-0.05,-0.18,0.03,-0.09,0.13,-0.14,-0.01,0.05,-0.21,-0.06,0.19,-0.11,-0.03,0.07,-0.34,-0.08,0.1,-0.15,0.02,
  -0.04,-0.2,0.09,-0.1,0.04,-0.17,-0.07,0.12,-0.13,0.0,-0.25,-0.05,0.08,-0.11,0.03,-0.31,-0.02,0.06,-0.16,0.11,
  -0.08,-0.19,0.02,-0.12,0.09,-0.04,-0.23,0.05,-0.1,0.14,-0.06,-0.15,0.07,-0.03,-0.2,0.1,-0.09,0.01,-0.13,0.04];
var trace9BlueB = [0.07,-0.18,-0.04,0.11,-0.12,-0.36,0.02,-0.08,0.15,-0.15,-0.01,0.1,-0.21,-0.06,0.04,-0.13,0.18,-0.1,-0.03,0.09,
  -0.16,0.01,0.24,-0.11,-0.05,0.06,-0.19,0.03,-0.09,-0.26,0.12,-0.07,0.02,-0.14,0.08,-0.02,0.19,-0.12,-0.22,0.05,
  -0.08,0.23,-0.04,-0.17,0.1,-0.11,0.0,-0.28,0.07,-0.06,0.13,-0.14,-0.33,0.04,-0.09,0.2,-0.03,-0.18,0.11,-0.07,
  0.02,-0.12,0.15,-0.24,-0.01,0.08,-0.16,0.03,-0.1,0.12,-0.05,-0.2,0.06,-0.13,0.09,-0.31,0.0,-0.08,0.14,-0.17,
  0.04,-0.11,-0.27,0.07,-0.02,0.1,-0.15,0.05,-0.21,0.0,0.16,-0.09,-0.04,0.08,-0.14,0.03,-0.18,0.18,-0.07,-0.24];

// ---- bulk of the draws (lower / upper edge of the dense band, 21 points over 0..999) ----
var band3BlueLow = [-1.9,-2.1,-1.8,-2.0,-1.9,-2.2,-1.8,-1.9,-2.0,-2.1,-1.8,-1.9,-2.0,-1.8,-2.1,-1.9,-2.0,-1.8,-2.0,-1.9,-2.1];
var band3BlueHigh = [1.7,1.8,1.6,1.8,1.7,1.6,1.8,1.7,1.9,1.6,1.7,1.8,1.6,1.7,1.8,1.6,1.7,1.9,1.7,1.6,1.8];
var band3OrangeLow = [-1.7,-1.8,-1.6,-1.9,-1.7,-1.8,-1.6,-1.8,-1.7,-1.9,-1.6,-1.7,-1.8,-1.6,-1.8,-1.9,-1.7,-1.8,-1.6,-1.9,-1.7];
var band3OrangeHigh = [1.9,2.0,1.8,2.1,1.9,1.8,2.0,1.9,2.0,1.8,1.9,2.1,1.8,1.9,2.0,1.8,1.9,2.0,1.9,1.8,2.0];
var band3GreenLow = [-1.4,-1.5,-1.3,-1.5,-1.4,-1.6,-1.3,-1.4,-1.5,-1.3,-1.4,-1.5,-1.3,-1.4,-1.5,-1.4,-1.3,-1.5,-1.4,-1.3,-1.5];
var band3GreenHigh = [1.6,1.7,1.5,1.8,1.6,1.5,1.7,1.6,1.7,1.5,1.6,1.8,1.5,1.6,1.7,1.5,1.6,1.7,1.6,1.5,1.7];

var band4BlueLow = [1.32,1.28,1.35,1.3,1.27,1.33,1.3,1.36,1.29,1.31,1.34,1.28,1.32,1.3,1.35,1.29,1.31,1.27,1.33,1.3,1.32];
var band4BlueHigh = [2.2,2.25,2.18,2.22,2.27,2.19,2.23,2.2,2.26,2.21,2.18,2.24,2.2,2.22,2.19,2.25,2.21,2.23,2.2,2.26,2.22];
var band4OrangeLow = [1.3,1.33,1.27,1.31,1.34,1.28,1.32,1.29,1.33,1.27,1.3,1.35,1.29,1.31,1.28,1.33,1.3,1.26,1.32,1.29,1.31];
var band4OrangeHigh = [2.23,2.2,2.27,2.22,2.19,2.25,2.21,2.26,2.2,2.24,2.22,2.19,2.27,2.21,2.24,2.2,2.26,2.22,2.19,2.25,2.23];
var band4GreenLow = [1.38,1.35,1.4,1.37,1.34,1.39,1.36,1.41,1.35,1.38,1.4,1.36,1.39,1.35,1.38,1.41,1.36,1.34,1.39,1.37,1.38];
var band4GreenHigh = [2.15,2.18,2.12,2.16,2.2,2.13,2.17,2.14,2.19,2.15,2.12,2.17,2.15,2.18,2.13,2.16,2.2,2.14,2.17,2.19,2.15];

var band5BlueLow = [0.19,0.18,0.2,0.19,0.18,0.2,0.19,0.18,0.2,0.19,0.18,0.19,0.2,0.18,0.19,0.2,0.18,0.19,0.2,0.18,0.19];
var band5BlueHigh = [0.45,0.48,0.43,0.46,0.44,0.47,0.45,0.43,0.49,0.46,0.44,0.47,0.45,0.48,0.44,0.46,0.49,0.45,0.47,0.44,0.46];
var band5OrangeLow = [0.18,0.19,0.17,0.18,0.2,0.18,0.17,0.19,0.18,0.17,0.19,0.18,0.2,0.17,0.18,0.19,0.17,0.18,0.19,0.17,0.18];
var band5OrangeHigh = [0.48,0.46,0.5,0.47,0.45,0.49,0.47,0.46,0.5,0.48,0.45,0.49,0.47,0.5,0.46,0.48,0.5,0.47,0.49,0.46,0.48];
var band5GreenLow = [0.2,0.21,0.2,0.22,0.2,0.21,0.2,0.2,0.21,0.22,0.2,0.21,0.2,0.21,0.22,0.2,0.21,0.2,0.22,0.21,0.2];
var band5GreenHigh = [0.46,0.5,0.44,0.47,0.45,0.42,0.44,0.46,0.48,0.45,0.47,0.49,0.46,0.5,0.45,0.47,0.5,0.46,0.48,0.45,0.47];

var band6BlueLow = [0.07,0.06,0.07,0.08,0.07,0.06,0.07,0.07,0.08,0.06,0.07,0.07,0.06,0.07,0.08,0.07,0.06,0.07,0.07,0.06,0.07];
var band6BlueHigh = [0.13,0.15,0.12,0.14,0.13,0.12,0.14,0.13,0.12,0.14,0.13,0.12,0.13,0.14,0.12,0.13,0.14,0.13,0.12,0.14,0.13];

var band7BlueLow = [0.06,0.08,0.07,0.06,0.08,0.07,0.06,0.08,0.07,0.06,0.08,0.07,0.06,0.08,0.07,0.06,0.08,0.07,0.06,0.08,0.07];
var band7BlueHigh = [0.32,0.3,0.35,0.31,0.33,0.3,0.34,0.32,0.3,0.35,0.31,0.33,0.3,0.34,0.32,0.31,0.35,0.3,0.33,0.31,0.32];
var band7OrangeLow = [0.15,0.13,0.16,0.14,0.12,0.15,0.14,0.16,0.13,0.15,0.14,0.12,0.16,0.14,0.15,0.13,0.16,0.14,0.12,0.15,0.14];
var band7OrangeHigh = [0.9,0.92,0.88,0.91,0.93,0.89,0.9,0.92,0.88,0.91,0.93,0.9,0.89,0.92,0.9,0.88,0.91,0.93,0.9,0.89,0.91];
var band7GreenLow = [0.13,0.11,0.14,0.12,0.13,0.1,0.13,0.14,0.11,0.13,0.12,0.12,0.1,0.13,0.14,0.12,0.11,0.13,0.13,0.11,0.13];
var band7GreenHigh = [0.88,0.9,0.86,0.89,0.91,0.87,0.9,0.88,0.86,0.9,0.89,0.91,0.87,0.88,0.9,0.86,0.89,0.91,0.88,0.87,0.89];

var band8BlueLow = [0.1,0.12,0.09,0.11,0.1,0.12,0.1,0.09,0.12,0.11,0.1,0.1,0.12,0.09,0.11,0.1,0.12,0.1,0.11,0.09,0.1];
var band8BlueHigh = [0.93,0.95,0.92,0.94,0.96,0.93,0.95,0.92,0.94,0.96,0.93,0.94,0.95,0.92,0.94,0.96,0.93,0.95,0.92,0.94,0.93];
var band8OrangeLow = [0.12,0.1,0.14,0.11,0.13,0.1,0.13,0.12,0.1,0.13,0.11,0.14,0.1,0.12,0.13,0.11,0.1,0.13,0.12,0.1,0.12];
var band8OrangeHigh = [0.97,0.96,0.98,0.97,0.96,0.98,0.97,0.96,0.98,0.97,0.97,0.96,0.98,0.97,0.96,0.98,0.97,0.96,0.98,0.97,0.97];
var band8GreenLow = [0.16,0.15,0.18,0.15,0.17,0.14,0.17,0.16,0.15,0.17,0.15,0.18,0.15,0.16,0.17,0.15,0.14,0.17,0.16,0.15,0.16];
var band8GreenHigh = [0.97,0.98,0.96,0.97,0.98,0.96,0.97,0.98,0.97,0.96,0.98,0.97,0.96,0.98,0.97,0.97,0.96,0.98,0.97,0.96,0.97];

var band9BlueLow = [-0.17,-0.19,-0.16,-0.18,-0.2,-0.17,-0.16,-0.19,-0.18,-0.17,-0.2,-0.18,-0.16,-0.19,-0.21,-0.17,-0.18,-0.16,-0.19,-0.17,-0.18];
var band9BlueHigh = [0.06,0.05,0.08,0.06,0.07,0.05,0.04,0.06,0.07,0.05,0.06,0.08,0.05,0.04,0.06,0.07,0.05,0.06,0.04,0.07,0.06];

// ---- layout ----
var FONT = 'Liberation Serif';
var GRID_TOP = 29.3, PITCH = 156.9, PANEL_H = 130;
var LEFT_X = 13.3, LEFT_W = 423, RIGHT_X = 520.3, RIGHT_W = 423.4;
var SOLID = 'solid', DASHED = [5.5, 2.4], DOTTED = [1.5, 2.5], DASHDOT = [9.6, 2.4, 1.5, 2.4];
var STYLES = [SOLID, DASHED, DOTTED, DASHDOT];

function fmt(d) {
    return function (v) { return Number(v).toFixed(d).replace('-', '\u2212'); };
}

var grids = [], xAxes = [], yAxes = [], series = [], titleList = [];

function tickAxis(ticks, d, extra) {
    var ax = {
        type: 'value',
        axisLine: { show: false },
        axisTick: { show: true, length: 5, lineStyle: { color: '#000', width: 0.8 }, customValues: ticks },
        axisLabel: { customValues: ticks, formatter: fmt(d), fontFamily: FONT, fontSize: 15, color: '#000', margin: 14 },
        splitLine: { show: true, lineStyle: { color: '#b0b0b0', width: 0.8 } }
    };
    for (var k in extra) ax[k] = extra[k];
    return ax;
}

for (var r = 0; r < 9; r++) {
    var panelTop = GRID_TOP + PITCH * r;
    grids.push({ left: LEFT_X, top: panelTop, width: LEFT_W, height: PANEL_H, show: true, borderColor: '#000', borderWidth: 1, backgroundColor: 'transparent' });
    grids.push({ left: RIGHT_X, top: panelTop, width: RIGHT_W, height: PANEL_H, show: true, borderColor: '#000', borderWidth: 1, backgroundColor: 'transparent' });

    xAxes.push(tickAxis(kdeXTicks[r], kdeXDecimals[r], { gridIndex: 2 * r, min: kdeXRange[r][0], max: kdeXRange[r][1] }));
    yAxes.push({ type: 'value', gridIndex: 2 * r, min: -0.05, max: 1.05, show: false });

    xAxes.push(tickAxis(drawTicks, 0, { gridIndex: 2 * r + 1, min: 0, max: drawMax }));
    yAxes.push(tickAxis(traceYTicks[r], traceYDecimals[r], { gridIndex: 2 * r + 1, min: traceYRange[r][0], max: traceYRange[r][1] }));

    titleList.push({ text: titles[r], left: LEFT_X + LEFT_W / 2, top: panelTop - 22, textAlign: 'center', padding: 0,
        textStyle: { fontFamily: FONT, fontSize: 16, fontWeight: 'normal', color: '#000' } });
    titleList.push({ text: titles[r], left: RIGHT_X + RIGHT_W / 2, top: panelTop - 22, textAlign: 'center', padding: 0,
        textStyle: { fontFamily: FONT, fontSize: 16, fontWeight: 'normal', color: '#000' } });
}

function addKde(row, xs, curves, color) {
    for (var c = 0; c < curves.length; c++) {
        var data = [];
        for (var i = 0; i < xs.length; i++) data.push([xs[i], curves[c][i]]);
        series.push({
            type: 'line', xAxisIndex: 2 * row, yAxisIndex: 2 * row, data: data,
            smooth: true, showSymbol: false, symbol: 'none', silent: true,
            lineStyle: { color: color, width: 1.5, type: STYLES[c % 4] }
        });
    }
}

function addTrace(row, vals, color, opacity, width, dash) {
    var data = [];
    var step = drawMax / (vals.length - 1);
    for (var i = 0; i < vals.length; i++) data.push([i * step, vals[i]]);
    series.push({
        type: 'line', xAxisIndex: 2 * row + 1, yAxisIndex: 2 * row + 1, data: data,
        showSymbol: false, symbol: 'none', silent: true,
        lineStyle: { color: color, width: width || 1, opacity: opacity, type: dash || 'solid' }
    });
}

// filled band between a lower and an upper edge, drawn as one polygon through the axes
function addBand(row, low, high, color, opacity) {
    var data = [];
    var step = drawMax / (low.length - 1);
    for (var i = 0; i < low.length; i++) data.push([i * step, low[i], high[i]]);
    series.push({
        type: 'custom', xAxisIndex: 2 * row + 1, yAxisIndex: 2 * row + 1, data: data, silent: true, clip: true,
        encode: { x: 0, y: [1, 2] },
        renderItem: function (params, api) {
            if (params.dataIndex !== 0) return null;
            var pts = [], j;
            for (j = 0; j < data.length; j++) pts.push(api.coord([data[j][0], data[j][2]]));
            for (j = data.length - 1; j >= 0; j--) pts.push(api.coord([data[j][0], data[j][1]]));
            return { type: 'polygon', shape: { points: pts }, style: { fill: color, opacity: opacity } };
        }
    });
}

// densities
addKde(0, kde1BlueX, kde1Blue, BLUE); addKde(0, kde1OrangeX, kde1Orange, ORANGE); addKde(0, kde1GreenX, kde1Green, GREEN);
addKde(1, kde2BlueX, kde2Blue, BLUE); addKde(1, kde2OrangeX, kde2Orange, ORANGE); addKde(1, kde2GreenX, kde2Green, GREEN);
addKde(2, kde3X, kde3Blue, BLUE); addKde(2, kde3X, kde3Orange, ORANGE); addKde(2, kde3X, kde3Green, GREEN);
addKde(3, kde4X, kde4Blue, BLUE); addKde(3, kde4X, kde4Orange, ORANGE); addKde(3, kde4X, kde4Green, GREEN);
addKde(4, kde5X, kde5Blue, BLUE); addKde(4, kde5X, kde5Orange, ORANGE); addKde(4, kde5X, kde5Green, GREEN);
addKde(5, kde6BlueX, kde6Blue, BLUE);
(function () {
    var d = [];
    for (var i = 0; i < kde6BlueTailX.length; i++) d.push([kde6BlueTailX[i], kde6BlueTail[i]]);
    series.push({ type: 'line', xAxisIndex: 10, yAxisIndex: 10, data: d, smooth: true, showSymbol: false, symbol: 'none',
        silent: true, lineStyle: { color: BLUE, width: 1.5, type: DASHED, opacity: 0.8 } });
})();
addKde(5, kde6OrangeX, kde6Orange, ORANGE); addKde(5, kde6GreenX, kde6Green, GREEN);
addKde(6, kde7BlueX, kde7Blue, BLUE); addKde(6, kde7X, kde7Orange, ORANGE); addKde(6, kde7X, kde7Green, GREEN);
addKde(7, kde8BlueX, kde8Blue, BLUE); addKde(7, kde8X, kde8Orange, ORANGE); addKde(7, kde8X, kde8Green, GREEN);
addKde(8, kde9X, kde9Blue, BLUE);

// traces
addTrace(0, trace1Blue, BLUE, 0.75, 3); addTrace(0, trace1Orange, ORANGE, 0.85, 3); addTrace(0, trace1Green, GREEN, 0.6, 3);
addTrace(1, trace2Blue, BLUE, 0.85, 3); addTrace(1, trace2Orange, ORANGE, 0.85, 3); addTrace(1, trace2Green, GREEN, 0.75, 3);

addBand(2, band3BlueLow, band3BlueHigh, BLUE, 0.45); addTrace(2, trace3Blue, BLUE, 0.4);
addBand(2, band3OrangeLow, band3OrangeHigh, ORANGE, 0.5); addTrace(2, trace3Orange, ORANGE, 0.45);
addBand(2, band3GreenLow, band3GreenHigh, GREEN, 0.85); addTrace(2, trace3Green, GREEN, 0.45);

addBand(3, band4BlueLow, band4BlueHigh, BLUE, 0.45); addTrace(3, trace4Blue, BLUE, 0.4);
addBand(3, band4OrangeLow, band4OrangeHigh, ORANGE, 0.5); addTrace(3, trace4Orange, ORANGE, 0.45);
addBand(3, band4GreenLow, band4GreenHigh, GREEN, 0.85); addTrace(3, trace4Green, GREEN, 0.45);

addBand(4, band5BlueLow, band5BlueHigh, BLUE, 0.45); addTrace(4, trace5Blue, BLUE, 0.4);
addBand(4, band5OrangeLow, band5OrangeHigh, ORANGE, 0.5); addTrace(4, trace5Orange, ORANGE, 0.45);
addBand(4, band5GreenLow, band5GreenHigh, GREEN, 0.85); addTrace(4, trace5Green, GREEN, 0.45);

addTrace(5, trace6Blue, BLUE, 0.45, 1, DASHED); addBand(5, band6BlueLow, band6BlueHigh, BLUE, 0.8);
addTrace(5, trace6Orange, ORANGE, 0.85, 2.5); addTrace(5, trace6Green, GREEN, 0.8, 2.5);

addBand(6, band7OrangeLow, band7OrangeHigh, ORANGE, 0.5); addTrace(6, trace7Orange, ORANGE, 0.45);
addBand(6, band7GreenLow, band7GreenHigh, GREEN, 0.8); addTrace(6, trace7Green, GREEN, 0.45);
addBand(6, band7BlueLow, band7BlueHigh, BLUE, 0.3); addTrace(6, trace7Blue, BLUE, 0.45);

addBand(7, band8BlueLow, band8BlueHigh, BLUE, 0.45); addTrace(7, trace8Blue, BLUE, 0.4);
addBand(7, band8OrangeLow, band8OrangeHigh, ORANGE, 0.5); addTrace(7, trace8Orange, ORANGE, 0.45);
addBand(7, band8GreenLow, band8GreenHigh, GREEN, 0.8); addTrace(7, trace8Green, GREEN, 0.45);

addBand(8, band9BlueLow, band9BlueHigh, BLUE, 0.65);
addTrace(8, trace9BlueA, BLUE, 0.5); addTrace(8, trace9BlueB, BLUE, 0.4, 1, DOTTED);

var chart = echarts.init(document.getElementById('chart'));
chart.setOption({
    animation: false,
    backgroundColor: '#fff',
    title: titleList,
    grid: grids,
    xAxis: xAxes,
    yAxis: yAxes,
    series: series
});
</script>
</body>
</html>
